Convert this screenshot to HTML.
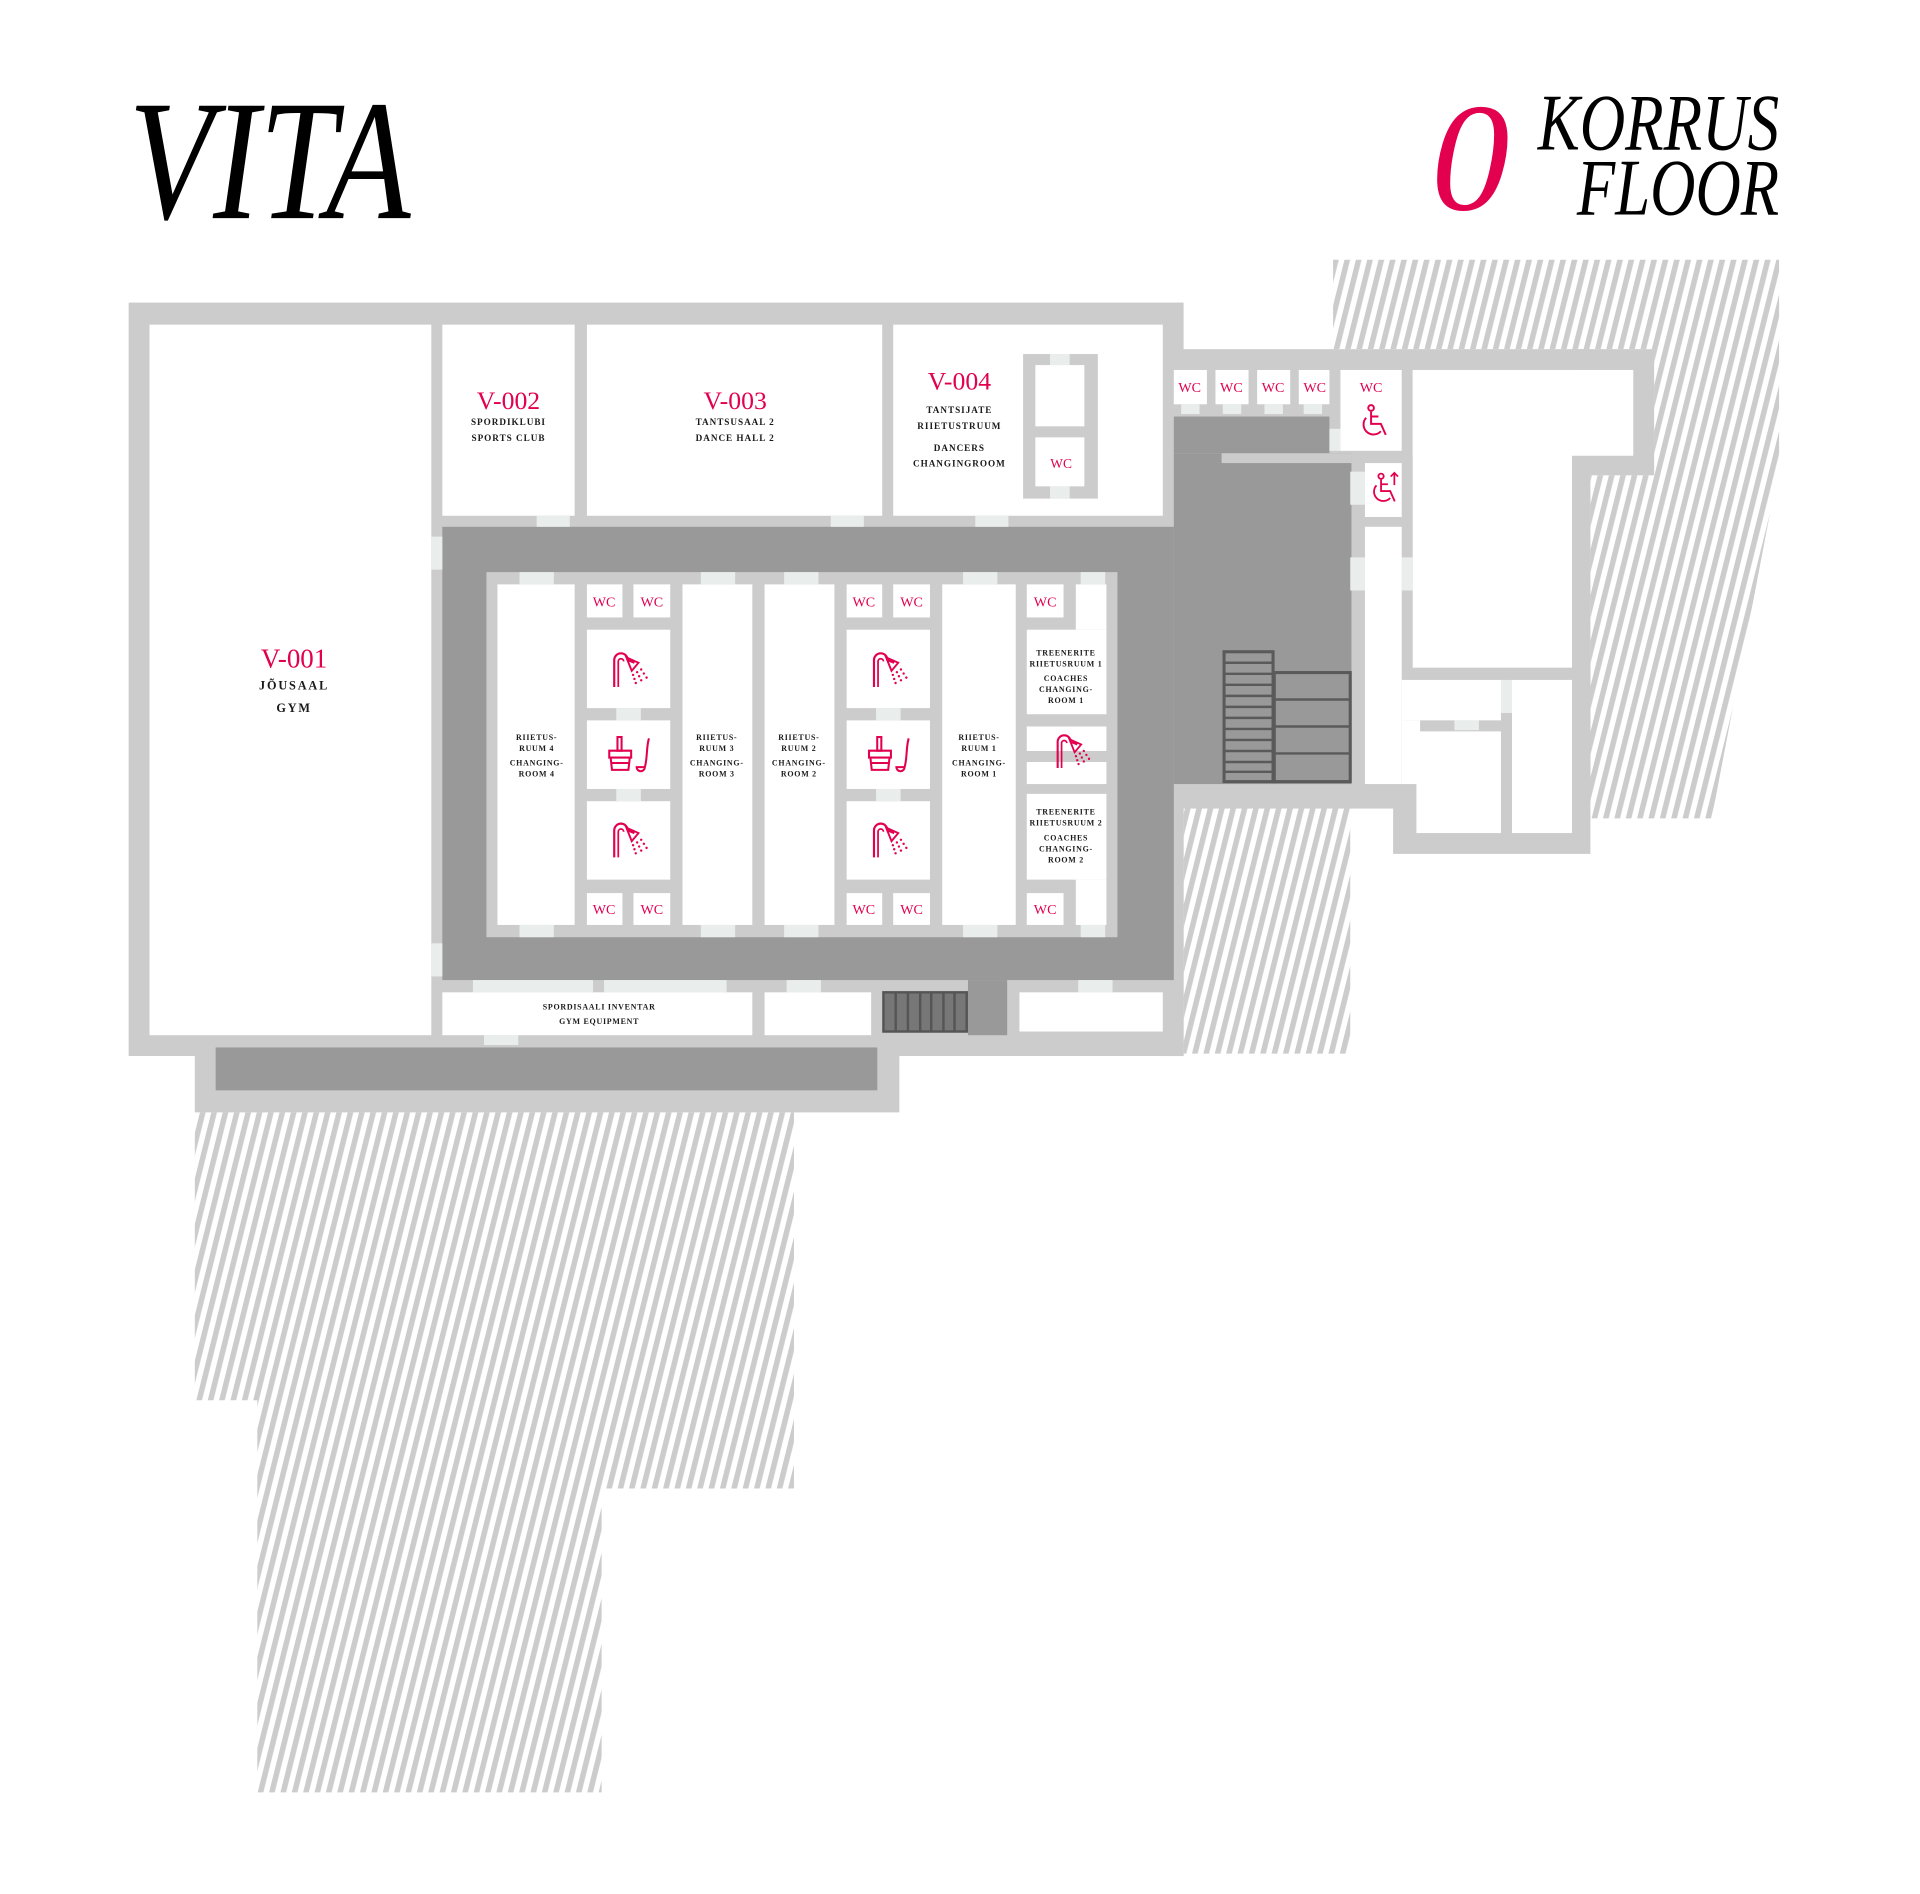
<!DOCTYPE html>
<html><head><meta charset="utf-8"><style>
html,body{margin:0;padding:0;background:#fff;}
svg{display:block;}
.t{font-family:"Liberation Serif",serif;fill:#1a1a1a;font-weight:bold;text-anchor:middle;}
.r{font-family:"Liberation Serif",serif;fill:#e2004f;text-anchor:middle;}
</style></head><body>
<svg width="1920" height="1894" viewBox="0 0 1567 1546" preserveAspectRatio="none" xmlns="http://www.w3.org/2000/svg">
<defs>
<pattern id="h" patternUnits="userSpaceOnUse" width="9" height="9" patternTransform="rotate(14)">
<rect width="9" height="9" fill="#fff"/><rect width="4.5" height="9" fill="#cccccc"/>
</pattern>
<symbol id="sh" viewBox="0 0 30 30">
<path d="M3 28 V8 a5 5 0 0 1 10 0 L18 10" fill="none" stroke="#e2004f" stroke-width="1.6"/>
<path d="M6 28 V9 a2 2 0 0 1 4 0" fill="none" stroke="#e2004f" stroke-width="1.3"/>
<path d="M12 6 L21 10 L16 16 Z" fill="none" stroke="#e2004f" stroke-width="1.4"/>
<g fill="#e2004f"><circle cx="17" cy="19" r=".9"/><circle cx="18" cy="22" r=".9"/><circle cx="19" cy="25" r=".9"/><circle cx="20" cy="17" r=".9"/><circle cx="21.5" cy="20" r=".9"/><circle cx="23" cy="23" r=".9"/><circle cx="23" cy="15" r=".9"/><circle cx="25" cy="18" r=".9"/><circle cx="27" cy="21" r=".9"/></g>
</symbol>
<symbol id="sa" viewBox="0 0 34 30">
<g fill="none" stroke="#e2004f" stroke-width="1.5">
<path d="M8 3 h3 v10 h-3 z"/><path d="M2 13 h16 v5 h-16 z"/><path d="M3 18 l1 9 h12 l1-9"/><path d="M4 22 h12"/>
<path d="M31 4 C29 10 30 18 28 25 a3 3 0 1 1 -6 0 h6"/>
</g>
</symbol>
<symbol id="wh" viewBox="0 0 30 30">
<g fill="none" stroke="#e2004f" stroke-width="1.6">
<circle cx="13" cy="4" r="2.3"/><path d="M13 7 v10 h8 l4 9"/><path d="M13 11 h6"/><path d="M9 12 a8 8 0 1 0 12 11"/>
</g>
</symbol>
</defs>

<!-- titles -->
<text x="105" y="178" font-family="Liberation Serif,serif" font-style="italic" font-size="140" textLength="230" lengthAdjust="spacingAndGlyphs" fill="#000">VITA</text>
<text x="1168" y="171" font-family="Liberation Serif,serif" font-style="italic" font-size="126" textLength="64" lengthAdjust="spacingAndGlyphs" fill="#e2004f">0</text>
<text x="1255" y="122" font-family="Liberation Serif,serif" font-style="italic" font-size="66" textLength="197" lengthAdjust="spacingAndGlyphs" fill="#000">KORRUS</text>
<text x="1287" y="175" font-family="Liberation Serif,serif" font-style="italic" font-size="66" textLength="165" lengthAdjust="spacingAndGlyphs" fill="#000">FLOOR</text>

<!-- hatches -->
<polygon points="1088,212 1452,212 1452,380 1397,668 1298,668 1298,388 1350,388 1350,285 1088,285" fill="url(#h)"/>
<polygon points="966,655 1102,655 1102,860 966,860" fill="url(#h)"/>
<polygon points="159,908 648,908 648,1215 491,1215 491,1463 210,1463 210,1143 159,1143" fill="url(#h)"/>

<!-- walls -->
<rect x="105" y="247" width="861" height="615" fill="#cccccc"/>
<rect x="159" y="852" width="575" height="56" fill="#cccccc"/>
<rect x="176" y="855" width="540" height="35" fill="#999"/>
<rect x="958" y="285" width="340" height="370" fill="#cccccc"/>
<rect x="1283" y="285" width="67" height="103" fill="#cccccc"/>
<rect x="1137" y="540" width="161" height="157" fill="#cccccc"/>
<rect x="950" y="640" width="190" height="20" fill="#cccccc"/>
<rect x="950" y="640" width="16" height="222" fill="#cccccc"/>

<!-- top rooms -->
<rect x="122" y="265" width="230" height="580" fill="#fff"/>
<rect x="361" y="265" width="108" height="156" fill="#fff"/>
<rect x="479" y="265" width="241" height="156" fill="#fff"/>
<rect x="729" y="265" width="220" height="156" fill="#fff"/>
<rect x="835" y="289" width="61" height="118" fill="#cccccc"/>
<rect x="845" y="298" width="40" height="50" fill="#fff"/>
<rect x="845" y="357" width="40" height="40" fill="#fff"/>
<rect x="857" y="289" width="16" height="9" fill="#e9eeec"/><rect x="857" y="397" width="16" height="10" fill="#e9eeec"/>

<!-- corridor -->
<rect x="361" y="430" width="597" height="370" fill="#999"/>
<rect x="958" y="340" width="127" height="30" fill="#999"/>
<rect x="958" y="370" width="145" height="270" fill="#999"/>
<rect x="997" y="370" width="106" height="8" fill="#cccccc"/>
<rect x="790" y="800" width="32" height="45" fill="#999"/>

<!-- inner block -->
<rect x="397" y="467" width="515" height="298" fill="#cccccc"/>
<rect x="406" y="477" width="63" height="278" fill="#fff"/>
<rect x="557" y="477" width="57" height="278" fill="#fff"/>
<rect x="624" y="477" width="57" height="278" fill="#fff"/>
<rect x="769" y="477" width="60" height="278" fill="#fff"/>
<g fill="#fff">
<rect x="479" y="477" width="29" height="27"/><rect x="517" y="477" width="30" height="27"/>
<rect x="479" y="514" width="68" height="64"/><rect x="479" y="588" width="68" height="56"/><rect x="479" y="654" width="68" height="64"/>
<rect x="479" y="729" width="29" height="26"/><rect x="517" y="729" width="30" height="26"/>
<rect x="691" y="477" width="29" height="27"/><rect x="729" y="477" width="30" height="27"/>
<rect x="691" y="514" width="68" height="64"/><rect x="691" y="588" width="68" height="56"/><rect x="691" y="654" width="68" height="64"/>
<rect x="691" y="729" width="29" height="26"/><rect x="729" y="729" width="30" height="26"/>
<rect x="838" y="477" width="30" height="27"/><rect x="878" y="477" width="25" height="37"/>
<rect x="838" y="514" width="65" height="69"/><rect x="838" y="593" width="65" height="20"/><rect x="838" y="622" width="65" height="18"/>
<rect x="838" y="648" width="65" height="70"/>
<rect x="838" y="729" width="30" height="26"/><rect x="878" y="718" width="25" height="37"/>
</g>
<!-- doors -->
<g fill="#e9eeec">
<rect x="424" y="467" width="28" height="10"/><rect x="572" y="467" width="28" height="10"/><rect x="640" y="467" width="28" height="10"/><rect x="786" y="467" width="28" height="10"/><rect x="882" y="467" width="20" height="10"/>
<rect x="424" y="755" width="28" height="10"/><rect x="572" y="755" width="28" height="10"/><rect x="640" y="755" width="28" height="10"/><rect x="786" y="755" width="28" height="10"/><rect x="882" y="755" width="20" height="10"/>
<rect x="438" y="421" width="27" height="9"/><rect x="678" y="421" width="27" height="9"/><rect x="796" y="421" width="27" height="9"/>
<rect x="352" y="438" width="9" height="27"/><rect x="352" y="770" width="9" height="27"/>
<rect x="503" y="578" width="20" height="10"/><rect x="503" y="644" width="20" height="10"/><rect x="715" y="578" width="20" height="10"/><rect x="715" y="644" width="20" height="10"/>
<rect x="386" y="800" width="98" height="10"/><rect x="493" y="800" width="100" height="10"/><rect x="642" y="800" width="28" height="10"/><rect x="880" y="800" width="28" height="10"/>
<rect x="395" y="845" width="28" height="8"/>
<rect x="1102" y="455" width="12" height="27"/><rect x="1144" y="455" width="9" height="27"/>
<rect x="1225" y="555" width="9" height="27"/><rect x="1187" y="588" width="20" height="8"/>
<rect x="1085" y="350" width="9" height="18"/><rect x="1102" y="385" width="12" height="27"/>
</g>

<!-- bottom rooms -->
<rect x="361" y="810" width="253" height="35" fill="#fff"/>
<rect x="624" y="810" width="87" height="35" fill="#fff"/>
<rect x="832" y="810" width="117" height="32" fill="#fff"/>
<rect x="721" y="810" width="68" height="32" fill="#777" stroke="#555" stroke-width="2"/>
<g stroke="#555" stroke-width="2"><line x1="731" y1="810" x2="731" y2="842"/><line x1="741" y1="810" x2="741" y2="842"/><line x1="751" y1="810" x2="751" y2="842"/><line x1="760" y1="810" x2="760" y2="842"/><line x1="770" y1="810" x2="770" y2="842"/><line x1="779" y1="810" x2="779" y2="842"/></g>

<!-- right wing rooms -->
<g fill="#fff">
<rect x="958" y="302" width="27" height="28"/><rect x="992" y="302" width="27" height="28"/><rect x="1026" y="302" width="27" height="28"/><rect x="1060" y="302" width="25" height="28"/>
<rect x="1094" y="302" width="50" height="66"/><rect x="1114" y="378" width="30" height="44"/>
<rect x="1114" y="430" width="30" height="210"/>
<rect x="1153" y="302" width="180" height="70"/><rect x="1153" y="302" width="130" height="243"/>
<rect x="1144" y="555" width="81" height="33"/><rect x="1144" y="588" width="15" height="52"/>
<rect x="1156" y="597" width="69" height="83"/><rect x="1234" y="555" width="49" height="125"/>
</g>
<g fill="#e9eeec"><rect x="964" y="330" width="15" height="8"/><rect x="998" y="330" width="15" height="8"/><rect x="1032" y="330" width="15" height="8"/><rect x="1064" y="330" width="15" height="8"/></g>

<!-- stairs -->
<g fill="#999" stroke="#5a5a5a" stroke-width="2.5">
<rect x="999" y="532" width="40" height="106"/><rect x="1040" y="549" width="62" height="89"/>
</g>
<g stroke="#5a5a5a" stroke-width="2">
<line x1="999" y1="541" x2="1039" y2="541"/><line x1="999" y1="550" x2="1039" y2="550"/><line x1="999" y1="559" x2="1039" y2="559"/><line x1="999" y1="568" x2="1039" y2="568"/><line x1="999" y1="577" x2="1039" y2="577"/><line x1="999" y1="586" x2="1039" y2="586"/><line x1="999" y1="595" x2="1039" y2="595"/><line x1="999" y1="604" x2="1039" y2="604"/><line x1="999" y1="613" x2="1039" y2="613"/><line x1="999" y1="622" x2="1039" y2="622"/><line x1="999" y1="630" x2="1039" y2="630"/>
<line x1="1040" y1="571" x2="1102" y2="571"/><line x1="1040" y1="593" x2="1102" y2="593"/><line x1="1040" y1="615" x2="1102" y2="615"/>
</g>

<!-- labels -->
<text class="r" x="240" y="545" font-size="22">V-001</text>
<text class="t" x="240" y="563" font-size="10" letter-spacing="1.5" font-weight="normal">JÕUSAAL</text>
<text class="t" x="240" y="581" font-size="10" letter-spacing="1.5" font-weight="normal">GYM</text>
<text class="r" x="415" y="334" font-size="21">V-002</text>
<text class="t" x="415" y="347" font-size="7.5" letter-spacing=".8">SPORDIKLUBI</text>
<text class="t" x="415" y="360" font-size="7.5" letter-spacing=".8">SPORTS CLUB</text>
<text class="r" x="600" y="334" font-size="21">V-003</text>
<text class="t" x="600" y="347" font-size="7.5" letter-spacing=".8">TANTSUSAAL 2</text>
<text class="t" x="600" y="360" font-size="7.5" letter-spacing=".8">DANCE HALL 2</text>
<text class="r" x="783" y="318" font-size="21">V-004</text>
<text class="t" x="783" y="337" font-size="7.5" letter-spacing=".8">TANTSIJATE</text>
<text class="t" x="783" y="350" font-size="7.5" letter-spacing=".8">RIIETUSTRUUM</text>
<text class="t" x="783" y="368" font-size="7.5" letter-spacing=".8">DANCERS</text>
<text class="t" x="783" y="381" font-size="7.5" letter-spacing=".8">CHANGINGROOM</text>
<text class="r" x="866" y="382" font-size="11">WC</text>

<g class="t" font-size="6.5" letter-spacing=".6">
<text x="438" y="604">RIIETUS-</text><text x="438" y="613">RUUM 4</text><text x="438" y="625">CHANGING-</text><text x="438" y="634">ROOM 4</text>
<text x="585" y="604">RIIETUS-</text><text x="585" y="613">RUUM 3</text><text x="585" y="625">CHANGING-</text><text x="585" y="634">ROOM 3</text>
<text x="652" y="604">RIIETUS-</text><text x="652" y="613">RUUM 2</text><text x="652" y="625">CHANGING-</text><text x="652" y="634">ROOM 2</text>
<text x="799" y="604">RIIETUS-</text><text x="799" y="613">RUUM 1</text><text x="799" y="625">CHANGING-</text><text x="799" y="634">ROOM 1</text>
<text x="870" y="535">TREENERITE</text><text x="870" y="544">RIIETUSRUUM 1</text><text x="870" y="556">COACHES</text><text x="870" y="565">CHANGING-</text><text x="870" y="574">ROOM 1</text>
<text x="870" y="665">TREENERITE</text><text x="870" y="674">RIIETUSRUUM 2</text><text x="870" y="686">COACHES</text><text x="870" y="695">CHANGING-</text><text x="870" y="704">ROOM 2</text>
<text x="489" y="824">SPORDISAALI INVENTAR</text><text x="489" y="836">GYM EQUIPMENT</text>
</g>

<g class="r" font-size="11.5">
<text x="493" y="495">WC</text><text x="532" y="495">WC</text><text x="705" y="495">WC</text><text x="744" y="495">WC</text><text x="853" y="495">WC</text>
<text x="493" y="746">WC</text><text x="532" y="746">WC</text><text x="705" y="746">WC</text><text x="744" y="746">WC</text><text x="853" y="746">WC</text>
<text x="971" y="320">WC</text><text x="1005" y="320">WC</text><text x="1039" y="320">WC</text><text x="1073" y="320">WC</text><text x="1119" y="320">WC</text>
</g>

<use href="#sh" x="497" y="530" width="35" height="33"/>
<use href="#sh" x="497" y="669" width="35" height="33"/>
<use href="#sh" x="709" y="530" width="35" height="33"/>
<use href="#sh" x="709" y="669" width="35" height="33"/>
<use href="#sh" x="859" y="597" width="34" height="32"/>
<use href="#sa" x="495" y="598" width="38" height="34"/>
<use href="#sa" x="707" y="598" width="38" height="34"/>
<use href="#wh" x="1106" y="329" width="30" height="30"/>
<use href="#wh" x="1115" y="385" width="28" height="28"/>
<path d="M1138 386 v10 M1135 389 l3-3 3 3" stroke="#e2004f" stroke-width="1.4" fill="none"/>
</svg>
</body></html>
